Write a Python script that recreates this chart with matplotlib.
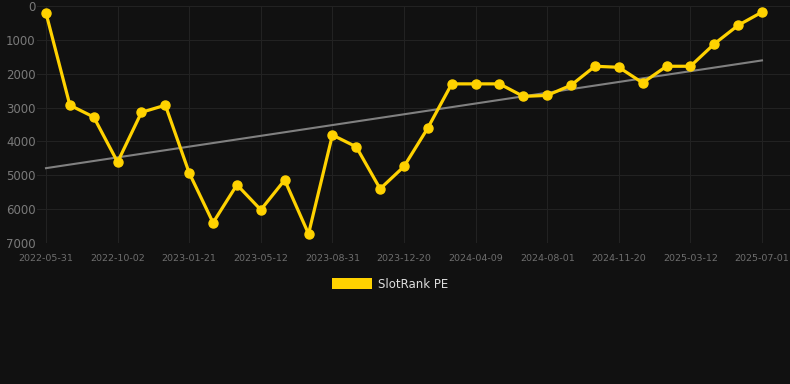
import matplotlib
matplotlib.use('Agg')
import matplotlib.pyplot as plt
import numpy as np

# SlotRank PE values (lower is better, axis is reversed)
values = [210, 2930, 3280, 4610, 3140, 2930, 4930, 6400, 5280, 6020, 5140, 6730,
          3810, 4160, 5400, 4740, 3600, 2300, 2300, 2300, 2670, 2640, 2340, 1780,
          1810, 2270, 1780, 1780, 1120, 570, 180]
tick_labels = ['2022-05-31', '2022-10-02', '2023-01-21', '2023-05-12', '2023-08-31',
               '2023-12-20', '2024-04-09', '2024-08-01', '2024-11-20', '2025-03-12',
               '2025-07-01']
y_ticks = [0, 1000, 2000, 3000, 4000, 5000, 6000, 7000]

bg = '#111111'
gold = '#FFD200'

x = np.arange(len(values))
slope, icpt = np.polyfit(x, values, 1)
trend = slope * x + icpt

fig = plt.figure(figsize=(7.9, 3.84), dpi=100, facecolor=bg)
ax = fig.add_axes([37 / 790, 1 - 243 / 384, 753 / 790, 237 / 384])
ax.set_facecolor(bg)

ax.plot(x, trend, color='#808080', linewidth=1.5, zorder=2)
ax.plot(x, values, color=gold, linewidth=2.3, marker='o', markersize=6.5,
        zorder=3, clip_on=False)

step = 23.87
ax.set_xlim(-9 / step, 30 + 28 / step)
ax.set_ylim(7000, 0)

ax.set_xticks(x[::3])
ax.set_xticklabels(tick_labels)
ax.set_yticks(y_ticks)
ax.tick_params(axis='x', colors='#6e6e6e', labelsize=6.8, length=0, pad=8)
ax.tick_params(axis='y', colors='#7a7a7a', labelsize=8.5, length=0, pad=1)

ax.grid(True, color='#222222', linewidth=0.8)
for s in ax.spines.values():
    s.set_visible(False)

# legend
handle = plt.Rectangle((0, 0), 1, 1, facecolor=gold, edgecolor='none')
leg = fig.legend([handle], ['SlotRank PE'], loc='center', bbox_to_anchor=(390 / 790, 1 - 284 / 384),
                 frameon=False, fontsize=8.5, handlelength=3.4, handleheight=1.0,
                 handletextpad=0.5, labelcolor='#dddddd')

plt.savefig('out.png', dpi=100, facecolor=bg)
